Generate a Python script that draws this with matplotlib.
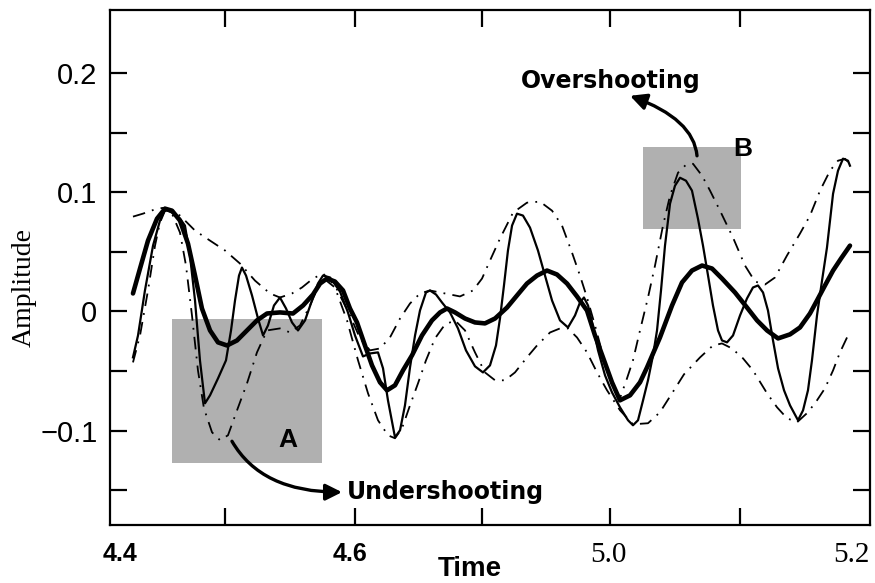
import matplotlib
matplotlib.use("Agg")
import matplotlib.pyplot as plt
from matplotlib.patches import Rectangle

# ---------------- data ----------------
# thin solid: signal
sig_t = [4.4242, 4.4295, 4.4368, 4.4453, 4.4526, 4.4579, 4.4653, 4.4737, 4.4789, 4.4842,
         4.4895, 4.4947, 4.5000, 4.5053, 4.5137, 4.5221, 4.5274, 4.5316, 4.5358, 4.5389,
         4.5432, 4.5495, 4.5558, 4.5611, 4.5663, 4.5726, 4.5789, 4.5853, 4.5916, 4.5979,
         4.6053, 4.6126, 4.6189, 4.6242, 4.6316, 4.6421, 4.6505, 4.6579, 4.6663, 4.6737,
         4.6821, 4.6874, 4.6926, 4.7000, 4.7053, 4.7105, 4.7158, 4.7211, 4.7263, 4.7326,
         4.7368, 4.7432, 4.7495, 4.7579, 4.7663, 4.7747, 4.7842, 4.7926, 4.8000, 4.8063,
         4.8105, 4.8147, 4.8189, 4.8232, 4.8284, 4.8347, 4.8421, 4.8505, 4.8579, 4.8653,
         4.8737, 4.8821, 4.8895, 4.8947, 4.8989, 4.9032, 4.9074, 4.9137, 4.9211, 4.9284,
         4.9368, 4.9453, 4.9505, 4.9558, 4.9611, 4.9663, 4.9716, 4.9758, 4.9800, 4.9842,
         4.9895, 4.9947, 5.0000, 5.0063, 5.0126, 5.0189, 5.0242, 5.0295, 5.0347, 5.0400,
         5.0442, 5.0495, 5.0558, 5.0632, 5.0705, 5.0768, 5.0821, 5.0874, 5.0926, 5.0979,
         5.1032, 5.1095, 5.1158, 5.1242, 5.1295, 5.1347, 5.1389, 5.1442, 5.1495, 5.1547,
         5.1611, 5.1663, 5.1716, 5.1768, 5.1789]
sig_a = [-0.0385, -0.0201, 0.0176, 0.0552, 0.0762, 0.0854, 0.0829, 0.0778, 0.0720, 0.0469,
         0.0092, -0.0410, -0.0770, -0.0703, -0.0561, -0.0410, -0.0159, 0.0092, 0.0301, 0.0368,
         0.0301, 0.0134, -0.0059, -0.0201, -0.0117, 0.0050, 0.0117, 0.0025, -0.0092, -0.0159,
         -0.0075, 0.0092, 0.0234, 0.0301, 0.0285, 0.0167, -0.0008, -0.0201, -0.0377, -0.0352,
         -0.0343, -0.0477, -0.0745, -0.1055, -0.0996, -0.0787, -0.0469, -0.0201, 0.0008, 0.0159,
         0.0176, 0.0142, 0.0075, -0.0008, -0.0142, -0.0326, -0.0460, -0.0511, -0.0452, -0.0285,
         -0.0059, 0.0218, 0.0511, 0.0720, 0.0820, 0.0804, 0.0703, 0.0511, 0.0301, 0.0092,
         -0.0075, -0.0134, -0.0033, 0.0075, 0.0117, 0.0050, -0.0092, -0.0326, -0.0536, -0.0678,
         -0.0803, -0.0912, -0.0954, -0.0912, -0.0745, -0.0577, -0.0368, -0.0159, 0.0176, 0.0552,
         0.0904, 0.1054, 0.1121, 0.1096, 0.1013, 0.0778, 0.0552, 0.0301, 0.0050, -0.0159,
         -0.0243, -0.0259, -0.0201, -0.0033, 0.0109, 0.0201, 0.0218, 0.0159, 0.0008, -0.0243,
         -0.0477, -0.0661, -0.0787, -0.0912, -0.0829, -0.0661, -0.0410, -0.0033, 0.0259, 0.0536,
         0.0987, 0.1180, 0.1281, 0.1264, 0.1222]

# thick solid: mean curve
mean_t = [4.4242, 4.4316, 4.4400, 4.4495, 4.4579, 4.4653, 4.4737, 4.4821, 4.4895, 4.4968,
          4.5053, 4.5137, 4.5232, 4.5337, 4.5442, 4.5547, 4.5653, 4.5789, 4.5926, 4.6032,
          4.6137, 4.6211, 4.6284, 4.6368, 4.6453, 4.6526, 4.6600, 4.6684, 4.6758, 4.6842,
          4.6916, 4.7000, 4.7084, 4.7179, 4.7284, 4.7389, 4.7474, 4.7547, 4.7632, 4.7737,
          4.7842, 4.7947, 4.8053, 4.8179, 4.8284, 4.8389, 4.8495, 4.8600, 4.8705, 4.8811,
          4.8916, 4.9021, 4.9105, 4.9189, 4.9284, 4.9368, 4.9474, 4.9579, 4.9653, 4.9789,
          4.9916, 5.0021, 5.0126, 5.0232, 5.0337, 5.0442, 5.0579, 5.0705, 5.0811, 5.0916,
          5.1032, 5.1158, 5.1263, 5.1368, 5.1442, 5.1526, 5.1611, 5.1695, 5.1789]
mean_a = [0.0151, 0.0360, 0.0594, 0.0778, 0.0862, 0.0845, 0.0762, 0.0569, 0.0301, 0.0025,
          -0.0159, -0.0259, -0.0285, -0.0243, -0.0159, -0.0075, -0.0017, -0.0008, -0.0017, 0.0050,
          0.0142, 0.0234, 0.0276, 0.0251, 0.0176, 0.0025, -0.0092, -0.0285, -0.0452, -0.0594,
          -0.0661, -0.0619, -0.0494, -0.0368, -0.0201, -0.0075, -0.0008, 0.0025, -0.0008, -0.0059,
          -0.0092, -0.0100, -0.0059, 0.0033, 0.0134, 0.0234, 0.0301, 0.0343, 0.0310, 0.0234,
          0.0126, 0.0008, -0.0201, -0.0385, -0.0594, -0.0745, -0.0703, -0.0594, -0.0469, -0.0218,
          0.0050, 0.0243, 0.0343, 0.0385, 0.0360, 0.0276, 0.0159, 0.0033, -0.0075, -0.0159,
          -0.0226, -0.0192, -0.0134, -0.0017, 0.0092, 0.0218, 0.0343, 0.0444, 0.0552]

# dash-dot: upper envelope
up_t = [4.4242, 4.4347, 4.4495, 4.4579, 4.4737, 4.4895, 4.5053, 4.5211, 4.5368, 4.5526,
        4.5684, 4.5789, 4.5916, 4.6021, 4.6137, 4.6242, 4.6368, 4.6526, 4.6632, 4.6737,
        4.6842, 4.6947, 4.7053, 4.7158, 4.7263, 4.7368, 4.7526, 4.7684, 4.7821, 4.7916,
        4.8000, 4.8105, 4.8242, 4.8389, 4.8526, 4.8653, 4.8758, 4.8863, 4.8947, 4.9021,
        4.9105, 4.9189, 4.9284, 4.9368, 4.9442, 4.9505, 4.9579, 4.9663, 4.9737, 4.9821,
        4.9895, 4.9979, 5.0063, 5.0137, 5.0232, 5.0316, 5.0421, 5.0558, 5.0684, 5.0789,
        5.0895, 5.1000, 5.1126, 5.1263, 5.1368, 5.1474, 5.1579, 5.1663, 5.1737, 5.1789]
up_a = [0.0795, 0.0820, 0.0862, 0.0870, 0.0804, 0.0678, 0.0594, 0.0511, 0.0402, 0.0259,
        0.0151, 0.0117, 0.0151, 0.0201, 0.0276, 0.0318, 0.0218, -0.0033, -0.0226, -0.0326,
        -0.0310, -0.0218, -0.0059, 0.0067, 0.0151, 0.0176, 0.0151, 0.0126, 0.0176, 0.0276,
        0.0427, 0.0611, 0.0828, 0.0912, 0.0921, 0.0845, 0.0720, 0.0494, 0.0301, 0.0117,
        -0.0117, -0.0368, -0.0619, -0.0728, -0.0561, -0.0410, -0.0159, 0.0117, 0.0385, 0.0720,
        0.0971, 0.1163, 0.1230, 0.1238, 0.1138, 0.1013, 0.0845, 0.0619, 0.0385, 0.0251,
        0.0226, 0.0285, 0.0469, 0.0653, 0.0803, 0.1013, 0.1180, 0.1264, 0.1280, 0.1238]

# dash-dot: lower envelope
low_t = [4.4242, 4.4316, 4.4400, 4.4474, 4.4526, 4.4579, 4.4653, 4.4737, 4.4800, 4.4863,
         4.4926, 4.4989, 4.5074, 4.5158, 4.5242, 4.5337, 4.5442, 4.5547, 4.5653, 4.5789,
         4.5895, 4.6000, 4.6105, 4.6189, 4.6263, 4.6368, 4.6495, 4.6611, 4.6716, 4.6821,
         4.6926, 4.7000, 4.7074, 4.7158, 4.7242, 4.7326, 4.7421, 4.7526, 4.7632, 4.7737,
         4.7842, 4.7947, 4.8053, 4.8158, 4.8263, 4.8389, 4.8495, 4.8632, 4.8737, 4.8821,
         4.8916, 4.9021, 4.9126, 4.9232, 4.9368, 4.9505, 4.9663, 4.9789, 4.9916, 5.0042,
         5.0211, 5.0347, 5.0442, 5.0547, 5.0663, 5.0768, 5.0916, 5.1021, 5.1126, 5.1232,
         5.1347, 5.1442, 5.1526, 5.1611, 5.1684, 5.1768]
low_a = [-0.0427, -0.0201, 0.0176, 0.0552, 0.0745, 0.0845, 0.0820, 0.0661, 0.0385, -0.0033,
         -0.0494, -0.0812, -0.1013, -0.1079, -0.1038, -0.0829, -0.0603, -0.0343, -0.0159, -0.0142,
         -0.0176, -0.0117, 0.0050, 0.0201, 0.0268, 0.0201, -0.0075, -0.0410, -0.0686, -0.0912,
         -0.1038, -0.1063, -0.0979, -0.0787, -0.0603, -0.0410, -0.0226, -0.0109, -0.0075, -0.0159,
         -0.0343, -0.0511, -0.0577, -0.0577, -0.0511, -0.0385, -0.0285, -0.0176, -0.0142, -0.0142,
         -0.0218, -0.0343, -0.0510, -0.0661, -0.0828, -0.0946, -0.0937, -0.0845, -0.0686, -0.0527,
         -0.0385, -0.0285, -0.0268, -0.0310, -0.0393, -0.0494, -0.0686, -0.0803, -0.0895, -0.0929,
         -0.0845, -0.0745, -0.0644, -0.0494, -0.0343, -0.0201]

# shaded regions: (t0, t1, a0, a1)
box_A = (4.4653, 4.6232, -0.1272, -0.0067)
box_B = (4.9611, 5.0642, 0.0695, 0.1381)

# axis labels/ticks
x_label_pos = [4.4105, 4.6526, 4.9242, 5.2]
x_label_txt = ["4.4", "4.6", "5.0", "5.2"]
x_tick_marks = [4.521, 4.658, 4.792, 4.926, 5.063]
y_major = [-0.1, 0.0, 0.1, 0.2]
y_major_txt = ["\u22120.1", "0", "0.1", "0.2"]
y_minor = [-0.15, -0.05, 0.05, 0.15]

# ---------------- figure ----------------
fig = plt.figure(figsize=(8.75, 5.83), dpi=100)
ax = fig.add_axes([0.1257, 0.0995, 0.8686, 0.8833])

for (t0, t1, a0, a1) in (box_A, box_B):
    ax.add_patch(Rectangle((t0, a0), t1 - t0, a1 - a0, facecolor="#b0b0b0",
                           edgecolor="none", zorder=1))

dd = (0, (7, 4, 1, 4))
ax.plot(up_t, up_a, color="black", lw=1.3, linestyle=dd, zorder=2)
ax.plot(low_t, low_a, color="black", lw=1.3, linestyle=dd, zorder=2)
ax.plot(sig_t, sig_a, color="black", lw=1.6, zorder=3)
ax.plot(mean_t, mean_a, color="black", lw=3.3, zorder=4, solid_capstyle="round")

ax.set_xlim(4.4, 5.2)
ax.set_ylim(-0.179, 0.2527)

for s in ax.spines.values():
    s.set_linewidth(1.6)

# x ticks: labels via major (no marks), marks via minor
ax.set_xticks(x_label_pos)
ax.set_xticklabels(x_label_txt)
ax.set_xticks(x_tick_marks, minor=True)
ax.tick_params(axis="x", which="major", length=0, pad=12)
ax.tick_params(axis="x", which="minor", direction="in", length=12, width=1.6,
               top=True, bottom=True)
xl = ax.get_xticklabels()
for lab in xl[:2]:
    lab.set_fontfamily("Liberation Sans")
    lab.set_fontweight("bold")
    lab.set_fontsize(18)
for lab in xl[2:]:
    lab.set_fontfamily("Liberation Serif")
    lab.set_fontsize(21)
xl[3].set_ha("right")

ax.set_yticks(y_major)
ax.set_yticklabels(y_major_txt, fontfamily="Liberation Sans", fontsize=21)
ax.set_yticks(y_minor, minor=True)
ax.tick_params(axis="y", which="both", direction="in", length=12, width=1.6,
               left=True, right=True, pad=9)

ax.set_xlabel("Time", fontfamily="Liberation Sans", fontweight="bold", fontsize=20)
ax.xaxis.set_label_coords(0.474, -0.085)
ax.xaxis.label.set_va("center")
ax.set_ylabel("Amplitude", fontfamily="Liberation Serif", fontsize=20)
ax.yaxis.set_label_coords(-0.113, 0.462)
ax.yaxis.label.set_va("center")

# annotations
ax.text(4.5874, -0.1079, "A", fontfamily="Liberation Sans", fontweight="bold",
        fontsize=19, ha="center", va="center", zorder=5)
ax.text(5.0663, 0.1364, "B", fontfamily="Liberation Sans", fontweight="bold",
        fontsize=19, ha="center", va="center", zorder=5)

ax.text(4.6495, -0.1515, "Undershooting", fontfamily="DejaVu Sans", fontweight="bold",
        fontsize=17, ha="left", va="center")
ax.text(4.9274, 0.1933, "Overshooting", fontfamily="DejaVu Sans", fontweight="bold",
        fontsize=17, ha="center", va="center")

arrow_kw = dict(arrowstyle="-|>,head_length=0.7,head_width=0.35", color="black",
                lw=2.4, shrinkA=0, shrinkB=0, mutation_scale=14)
ax.annotate("", xy=(4.6442, -0.1515), xytext=(4.5284, -0.1088),
            arrowprops=dict(connectionstyle="angle3,angleA=-60,angleB=0", **arrow_kw),
            zorder=6)
ax.annotate("", xy=(4.9474, 0.1808), xytext=(5.0179, 0.1305),
            arrowprops=dict(connectionstyle="angle3,angleA=95,angleB=160", **arrow_kw),
            zorder=6)

fig.savefig("out.png", dpi=100)
